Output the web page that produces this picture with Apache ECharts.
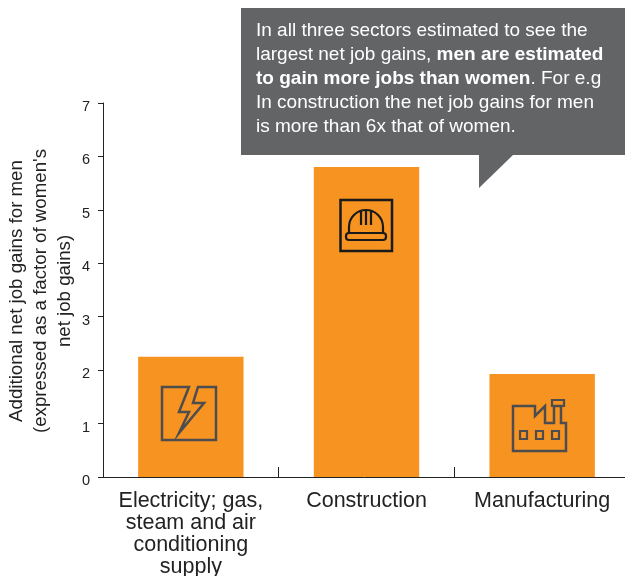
<!DOCTYPE html>
<html>
<head>
<meta charset="utf-8">
<script src="https://cdn.jsdelivr.net/npm/echarts@6/dist/echarts.min.js"></script>
<style>
html, body { margin: 0; padding: 0; background: #fff; }
#main { width: 625px; height: 576px; }
</style>
</head>
<body>
<div id="main"></div>
<script>
var categories = ['Electricity; gas,\nsteam and air\nconditioning\nsupply', 'Construction', 'Manufacturing'];
var gains = [2.25, 5.8, 1.93];
var yTicks = [0, 1, 2, 3, 4, 5, 6, 7];
var yTitle = "Additional net job gains for men\n(expressed as a factor of women's\nnet job gains)";

var fontName = '"Liberation Sans", Arial, sans-serif';
var orange = '#f79320';
var grey = '#636466';
var iconLine = '#4d4d4f';
var helmetLine = '#1a1a1a';

var chart = echarts.init(document.getElementById('main'), null, { renderer: 'canvas' });

function iconRect(x, y, w, h, color, lineWidth, r) {
  return {
    type: 'rect',
    z: 5,
    shape: { x: x, y: y, width: w, height: h, r: r || 0 },
    style: { fill: null, stroke: color, lineWidth: lineWidth }
  };
}

function iconLineSeg(x1, y1, x2, y2) {
  return {
    type: 'line',
    z: 5,
    shape: { x1: x1, y1: y1, x2: x2, y2: y2 },
    style: { stroke: helmetLine, lineWidth: 2.2 }
  };
}

var option = {
  animation: false,
  backgroundColor: '#fff',
  textStyle: { fontFamily: fontName },
  grid: { left: 103, right: -5, top: 103, bottom: 99, outerBoundsMode: 'none' },
  xAxis: {
    type: 'category',
    data: categories,
    axisLine: { lineStyle: { color: '#222', width: 1 } },
    axisTick: { show: true, inside: true, length: 10, lineStyle: { color: '#222' } },
    axisLabel: { color: '#222', fontSize: 21.5, lineHeight: 22, margin: 13, interval: 0 }
  },
  yAxis: {
    type: 'value',
    min: yTicks[0],
    max: yTicks[yTicks.length - 1],
    interval: 1,
    splitLine: { show: false },
    axisLine: { show: true, lineStyle: { color: '#222', width: 1 } },
    axisTick: { show: true, length: 5, lineStyle: { color: '#222' } },
    // labels sit a little below their ticks in the original
    axisLabel: { color: '#222', fontSize: 14.5, margin: 13, verticalAlign: 'top', lineHeight: 8 }
  },
  series: [{
    type: 'bar',
    data: gains,
    barWidth: '60%',
    itemStyle: { color: orange }
  }],
  graphic: [
    // y axis title
    {
      type: 'text',
      x: 41,
      y: 291,
      rotation: Math.PI / 2,
      style: {
        text: yTitle,
        fontFamily: fontName,
        fontSize: 18.7,
        lineHeight: 24,
        fill: '#222',
        align: 'center',
        verticalAlign: 'middle'
      }
    },
    // callout box with its pointer
    {
      type: 'polygon',
      z: 10,
      shape: { points: [[241, 8], [625, 8], [625, 155], [513, 155], [479, 188], [479, 155], [241, 155]] },
      style: { fill: grey }
    },
    {
      type: 'text',
      z: 11,
      x: 256,
      y: 19,
      style: {
        rich: {
          n: { fontFamily: fontName, fontSize: 19, lineHeight: 24, fill: '#fff' },
          b: { fontFamily: fontName, fontSize: 19, lineHeight: 24, fill: '#fff', fontWeight: 'bold' }
        },
        text: '{n|In all three sectors estimated to see the}\n' +
          '{n|largest net job gains, }{b|men are estimated}\n' +
          '{b|to gain more jobs than women}{n|. For e.g}\n' +
          '{n|In construction the net job gains for men}\n' +
          '{n|is more than 6x that of women.}'
      }
    },
    // electricity icon
    {
      type: 'polygon',
      z: 5,
      shape: { points: [[189, 387], [162, 387], [162, 440], [216, 440], [216, 387], [198, 387], [193, 403], [204, 403], [179, 433], [189, 412], [179, 412]] },
      style: { fill: null, stroke: iconLine, lineWidth: 2.5 }
    },
    // helmet icon
    iconRect(340.5, 200, 51.5, 51, helmetLine, 2.5),
    {
      type: 'arc',
      z: 5,
      shape: { cx: 366, cy: 227, r: 17, startAngle: Math.PI, endAngle: Math.PI * 2, clockwise: true },
      style: { fill: null, stroke: helmetLine, lineWidth: 2.2 }
    },
    iconLineSeg(349, 227, 349, 233),
    iconLineSeg(383, 227, 383, 233),
    iconRect(346, 233, 40, 7, helmetLine, 2.2, 3),
    iconLineSeg(361, 211, 361, 225),
    iconLineSeg(366, 211, 366, 225),
    iconLineSeg(371, 211, 371, 225),
    // factory icon
    {
      type: 'polygon',
      z: 5,
      shape: { points: [[513, 406], [535, 406], [535, 416], [545, 406], [545, 423], [554, 423], [554, 406], [561, 406], [561, 423], [566, 423], [566, 451], [513, 451]] },
      style: { fill: null, stroke: iconLine, lineWidth: 2.5 }
    },
    iconRect(552, 400, 12, 6, iconLine, 2.2),
    iconRect(520, 431, 7, 8, iconLine, 2.2),
    iconRect(536, 431, 7, 8, iconLine, 2.2),
    iconRect(552, 431, 7, 8, iconLine, 2.2)
  ]
};

chart.setOption(option);
</script>
</body>
</html>
